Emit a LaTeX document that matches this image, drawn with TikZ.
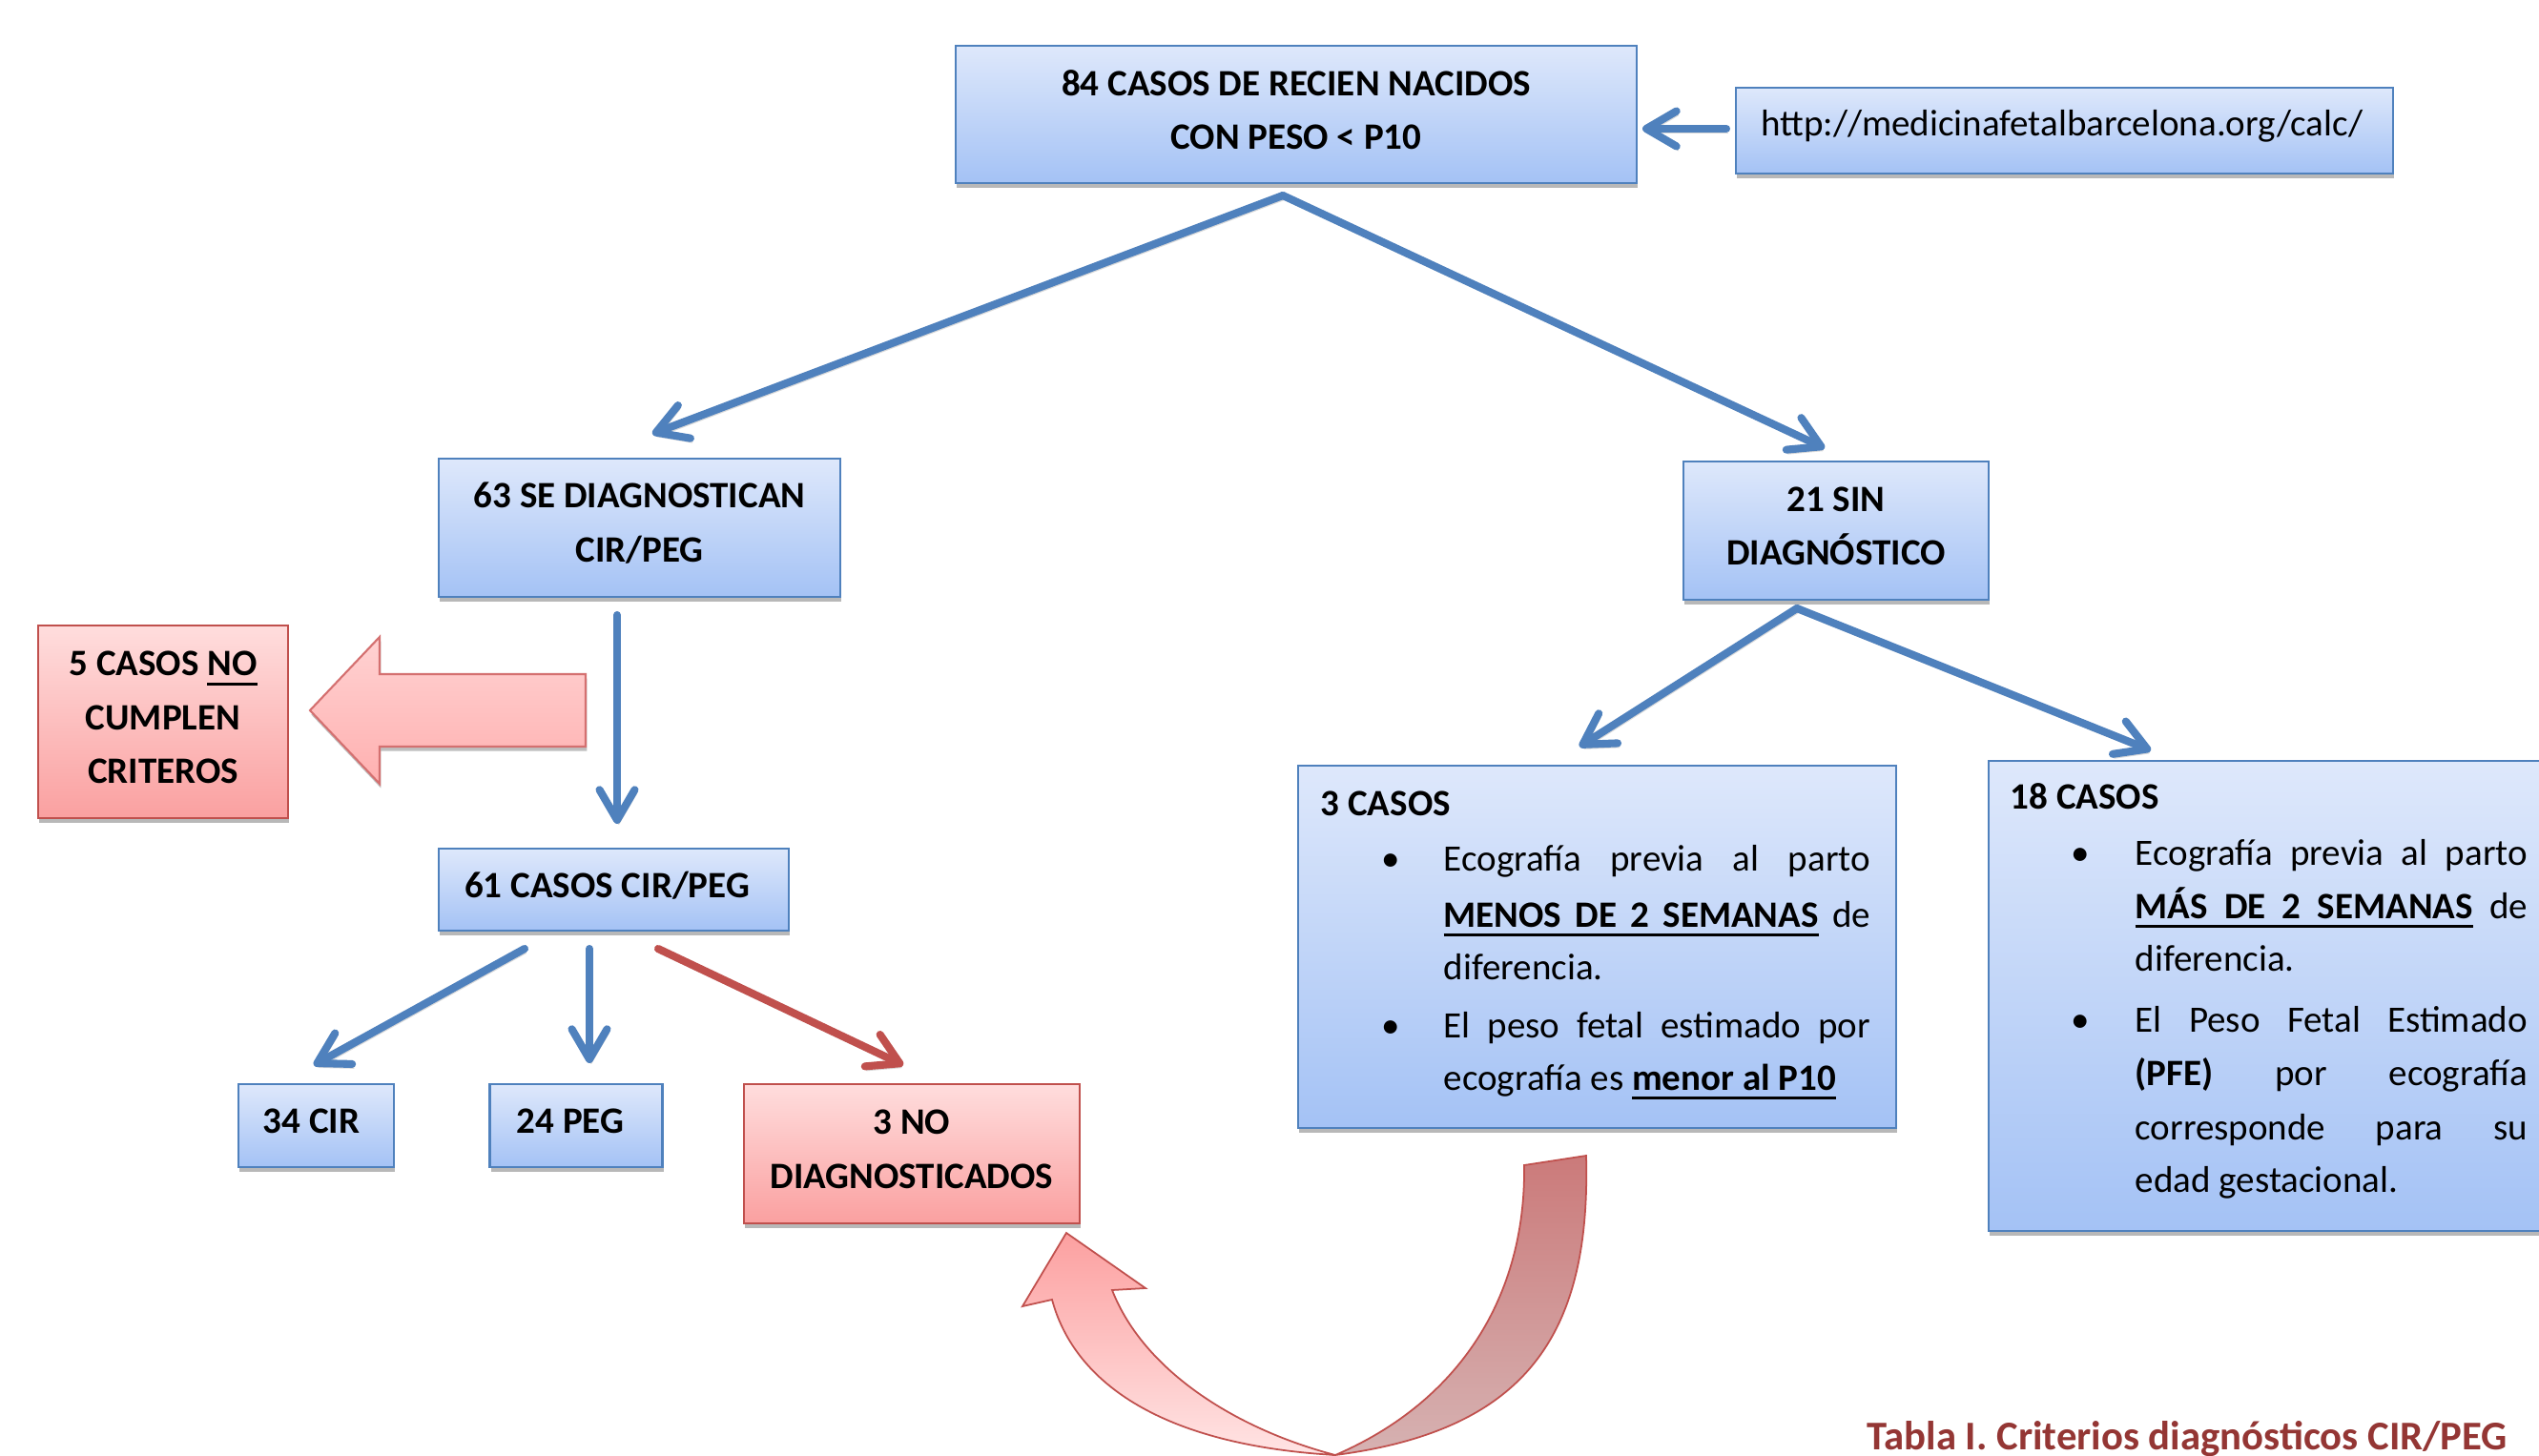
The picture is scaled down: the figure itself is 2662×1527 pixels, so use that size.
\documentclass[tikz,border=0pt]{standalone}
\usepackage{fontspec}
\setmainfont{Carlito}
\usetikzlibrary{arrows.meta,shadows}
\definecolor{bborder}{RGB}{79,129,189}
\definecolor{btop}{RGB}{222,232,251}
\definecolor{bbot}{RGB}{164,194,245}
\definecolor{rborder}{RGB}{192,80,77}
\definecolor{rtop}{RGB}{255,221,221}
\definecolor{rbot}{RGB}{250,160,160}
\definecolor{capc}{RGB}{148,54,52}
\definecolor{bigtop}{RGB}{255,210,210}
\definecolor{bigbot}{RGB}{255,176,176}
\definecolor{bigline}{RGB}{212,112,112}
\definecolor{fronttop}{RGB}{252,160,160}
\definecolor{frontbot}{RGB}{255,228,228}
\definecolor{backtop}{RGB}{203,122,122}
\definecolor{backbot}{RGB}{214,178,178}
\newcommand\bxfont{\fontsize{11.1pt}{16pt}\selectfont\bfseries}
\newcommand\txfont{\fontsize{11.1pt}{16pt}\selectfont}
\newsavebox\ulbox
\newcommand\ulw[1]{\sbox\ulbox{#1}\rlap{\rule[-2.85pt]{\wd\ulbox}{0.85pt}}\usebox\ulbox}
\newcommand\uls{\leaders\hrule height -2pt depth 2.85pt\hskip\fontdimen2\font plus\fontdimen3\font minus\fontdimen4\font\relax}
\newcommand\jl[2]{\makebox[#1][s]{#2}}
\tikzset{
  bbox/.style={draw=bborder, line width=0.7pt, top color=btop, bottom color=bbot,
    drop shadow={shadow xshift=0.3pt, shadow yshift=-1.3pt, opacity=0.28, fill=black},
    inner sep=0pt},
  rbox/.style={bbox, draw=rborder, top color=rtop, bottom color=rbot},
  btxt/.style={inner sep=0pt, font=\bxfont, align=center},
  tx/.style={anchor=base west, inner sep=0pt, font=\txfont},
  bul/.style={anchor=base, inner sep=0pt, font=\txfont},
  barrow/.style={draw=bborder, line width=2.3pt, line cap=round,
    -{Straight Barb[length=9pt,width=10.5pt,round]},
    preaction={draw=black, draw opacity=0.15, transform canvas={xshift=0.5pt,yshift=-1.2pt}}},
  rarrow/.style={barrow, draw=rborder},
  bigarrow/.style={draw=bigline, line width=0.6pt, top color=bigtop, bottom color=bigbot,
    drop shadow={shadow xshift=0.4pt, shadow yshift=-1.3pt, opacity=0.25, fill=black}},
  curvefront/.style={draw=rborder, line width=0.5pt, top color=fronttop, bottom color=frontbot},
  curveback/.style={draw=rborder, line width=0.5pt, top color=backtop, bottom color=backbot}
}
\begin{document}
\begin{tikzpicture}[x=0.01cm, y=-0.01cm]
\useasboundingbox (0,0) rectangle (2662,1527);
\fill[white] (0,0) rectangle (2662,1527);
\clip (0,0) rectangle (2662,1527);

% boxes
\node[bbox, minimum width=7.14cm, minimum height=1.44cm] (top) at (1359,120) {};
\node[bbox, minimum width=6.89cm, minimum height=0.90cm] (url) at (2164.5,137) {};
\node[bbox, minimum width=4.21cm, minimum height=1.45cm] (d63) at (670.5,553.5) {};
\node[bbox, minimum width=3.20cm, minimum height=1.45cm] (s21) at (1925,556.5) {};
\node[rbox, minimum width=2.62cm, minimum height=2.02cm] (n5) at (171,757) {};
\node[bbox, minimum width=3.67cm, minimum height=0.86cm] (c61) at (643.5,933) {};
\node[bbox, minimum width=1.63cm, minimum height=0.87cm] (c34) at (331.5,1180.5) {};
\node[bbox, minimum width=1.81cm, minimum height=0.87cm] (p24) at (604,1180.5) {};
\node[rbox, minimum width=3.52cm, minimum height=1.46cm] (nd3) at (956,1210) {};
\node[bbox, minimum width=6.27cm, minimum height=3.80cm] (k3) at (1674.5,993) {};
\node[bbox, minimum width=6.15cm, minimum height=4.93cm] (k18) at (2392.5,1044.5) {};

% box texts
\node[btxt] (top-t) at ([yshift=1.4pt]top.center) {84 CASOS DE RECIEN NACIDOS\\CON PESO < P10};
\node[inner sep=0pt, font=\txfont, anchor=west] (url-t) at ([xshift=0.27cm,yshift=1.4pt]url.west) {http://medicinafetalbarcelona.org/calc/};
\node[btxt] (d63-t) at ([yshift=1.4pt]d63.center) {63 SE DIAGNOSTICAN\\CIR/PEG};
\node[btxt] (s21-t) at ([yshift=1.3pt]s21.center) {21 SIN\\DIAGNÓSTICO};
\node[btxt] (n5-t) at ([yshift=1.3pt]n5.center) {5 CASOS \ulw{NO}\\CUMPLEN\\CRITEROS};
\node[btxt] (c61-t) at ([xshift=-0.07cm,yshift=1.2pt]c61.center) {61 CASOS CIR/PEG};
\node[btxt] (c34-t) at ([xshift=-0.05cm,yshift=1.3pt]c34.center) {34 CIR};
\node[btxt] (p24-t) at ([xshift=-0.06cm,yshift=1.3pt]p24.center) {24 PEG};
\node[btxt] (nd3-t) at ([yshift=1.3pt]nd3.center) {3 NO\\DIAGNOSTICADOS};

% 3 CASOS text
\node[tx, font=\bxfont] (k3h) at (1384,855) {3 CASOS};
\node[bul] (k3u1) at (1458,913) {•};
\node[tx] (k3a) at (1513,913) {\jl{4.47cm}{Ecografía previa al parto}};
\node[tx] (k3b) at (1513,972) {\jl{4.47cm}{\textbf{\ulw{MENOS}\uls\ulw{DE}\uls\ulw{2}\uls\ulw{SEMANAS}} de}};
\node[tx] (k3c) at (1513,1027) {diferencia.};
\node[bul] (k3u2) at (1458,1088) {•};
\node[tx] (k3d) at (1513,1088) {\jl{4.47cm}{El peso fetal estimado por}};
\node[tx] (k3e) at (1513,1143) {ecografía es \textbf{\ulw{menor}\uls\ulw{al}\uls\ulw{P10}}};

% 18 CASOS text
\node[tx, font=\bxfont] (k18h) at (2107,848) {18 CASOS};
\node[bul] (k18u1) at (2181,907) {•};
\node[tx] (k18a) at (2238,907) {\jl{4.11cm}{Ecografía previa al parto}};
\node[tx] (k18b) at (2238,963) {\jl{4.11cm}{\textbf{\ulw{MÁS}\uls\ulw{DE}\uls\ulw{2}\uls\ulw{SEMANAS}} de}};
\node[tx] (k18c) at (2238,1018) {diferencia.};
\node[bul] (k18u2) at (2181,1082) {•};
\node[tx] (k18d) at (2238,1082) {\jl{4.11cm}{El Peso Fetal Estimado}};
\node[tx] (k18e) at (2238,1138) {\jl{4.11cm}{\textbf{(PFE)} por ecografía}};
\node[tx] (k18f) at (2238,1195) {\jl{4.11cm}{corresponde para su}};
\node[tx] (k18g) at (2238,1250) {edad gestacional.};

% connector end points
\coordinate (uA) at (1810,135); \coordinate (uB) at (1722,135);
\coordinate (ap1) at (1345,205); \coordinate (t63) at (684,455); \coordinate (t21) at (1913,470);
\coordinate (d63s) at (647,645); \coordinate (c61n) at (647,864);
\coordinate (ap2) at (1884,638); \coordinate (t3) at (1656,783); \coordinate (t18) at (2255,787);
\coordinate (c61a) at (550,995); \coordinate (t34) at (329,1117);
\coordinate (c61b) at (618,995); \coordinate (t24) at (618,1115);
\coordinate (c61c) at (690,995); \coordinate (tnd) at (947,1117);

\draw[barrow] (uA) -- (uB);
\draw[barrow] (ap1) -- (t63);
\draw[barrow] (ap1) -- (t21);
\draw[barrow] (d63s) -- (c61n);
\draw[barrow] (ap2) -- (t3);
\draw[barrow] (ap2) -- (t18);
\draw[barrow] (c61a) -- (t34);
\draw[barrow] (c61b) -- (t24);
\draw[rarrow] (c61c) -- (tnd);

% big block arrow towards 5 CASOS
\filldraw[bigarrow] (614,707) -- (398,707) -- (398,668) -- (325,745) -- (398,822) -- (398,783) -- (614,783) -- cycle;

% curved arrow from 3 CASOS back to 3 NO DIAGNOSTICADOS
\filldraw[curveback] (1663,1212) .. controls (1668,1400) and (1600,1500) .. (1400,1526)
  .. controls (1530,1470) and (1600,1360) .. (1598,1222) -- cycle;
\filldraw[curvefront] (1400,1526) .. controls (1210,1515) and (1125,1445) .. (1103,1363)
  -- (1072,1370) -- (1118,1293) -- (1201,1351) -- (1166,1353)
  .. controls (1200,1440) and (1300,1500) .. (1400,1526) -- cycle;

% caption
\node[anchor=base west, inner sep=0pt, text=capc, font=\fontsize{12.15pt}{14pt}\selectfont\bfseries] (cap) at (1957,1520) {Tabla I. Criterios diagnósticos CIR/PEG};
\end{tikzpicture}
\end{document}
